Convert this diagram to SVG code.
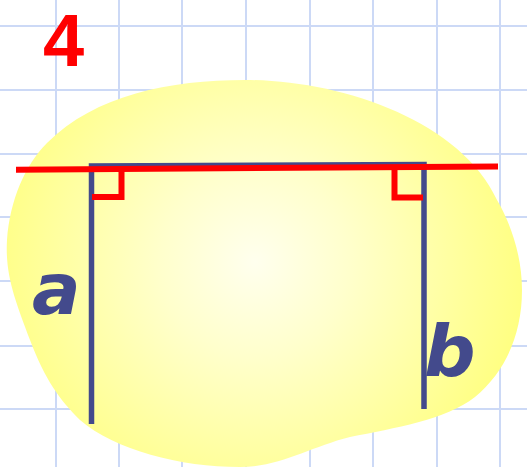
<svg xmlns="http://www.w3.org/2000/svg" width="527" height="467" viewBox="0 0 527 467">
<defs>
<radialGradient id="blobGrad" gradientUnits="userSpaceOnUse" cx="255" cy="262" r="270">
<stop offset="0" stop-color="#ffffee"/>
<stop offset="0.35" stop-color="#ffffcc"/>
<stop offset="1" stop-color="#ffff82"/>
</radialGradient>
<style>
.grid line{stroke:#ccd9f6;stroke-width:2}
.blue{stroke:#434a8c;stroke-width:5.5;fill:none}
.red{stroke:#ff0000;stroke-width:6;fill:none}
.lbl{font-family:"DejaVu Sans",Verdana,sans-serif;font-weight:bold;font-style:italic;font-size:72px;fill:#434a8c}
.num{font-family:"Liberation Sans",Arial,sans-serif;font-weight:bold;font-size:74px;fill:#ff0000}
</style>
</defs>
<rect width="527" height="467" fill="#ffffff"/>
<g class="grid">
<line x1="56" y1="0" x2="56" y2="467"/>
<line x1="119" y1="0" x2="119" y2="467"/>
<line x1="182" y1="0" x2="182" y2="467"/>
<line x1="246" y1="0" x2="246" y2="467"/>
<line x1="310" y1="0" x2="310" y2="467"/>
<line x1="373" y1="0" x2="373" y2="467"/>
<line x1="437" y1="0" x2="437" y2="467"/>
<line x1="500" y1="0" x2="500" y2="467"/>
<line x1="0" y1="26" x2="527" y2="26"/>
<line x1="0" y1="90" x2="527" y2="90"/>
<line x1="0" y1="154" x2="527" y2="154"/>
<line x1="0" y1="217" x2="527" y2="217"/>
<line x1="0" y1="281" x2="527" y2="281"/>
<line x1="0" y1="346" x2="527" y2="346"/>
<line x1="0" y1="409" x2="527" y2="409"/>
</g>
<g id="blob">
<path d="M245,80 C340,80 460,120 497,200 C510,222 522,255 522,290 C522,335 505,372 475,397 C445,420 395,428 350,437 C310,447 280,467 240,467 C180,467 115,450 80,420 C60,400 45,380 30,340 C15,300 5,275 7,240 C10,200 25,165 47,143 C95,95 170,80 245,80 Z" fill="url(#blobGrad)"/>
</g>
<g id="connectors">
<path class="blue" d="M91.5,424 L91.5,166 L424,164.5 L424,409"/>
<line class="red" x1="16" y1="169.7" x2="498" y2="166.5"/>
<path class="red" d="M121.5,169 L121.5,197 L92,197"/>
<path class="red" d="M394.5,167 L394.5,197.5 L423,197.5"/>
</g>
<g id="label-4"><text class="num" x="43" y="65.5">4</text></g>
<g id="label-a"><text class="lbl" x="32" y="314">a</text></g>
<g id="label-b"><text class="lbl" x="424" y="376">b</text></g>
</svg>
